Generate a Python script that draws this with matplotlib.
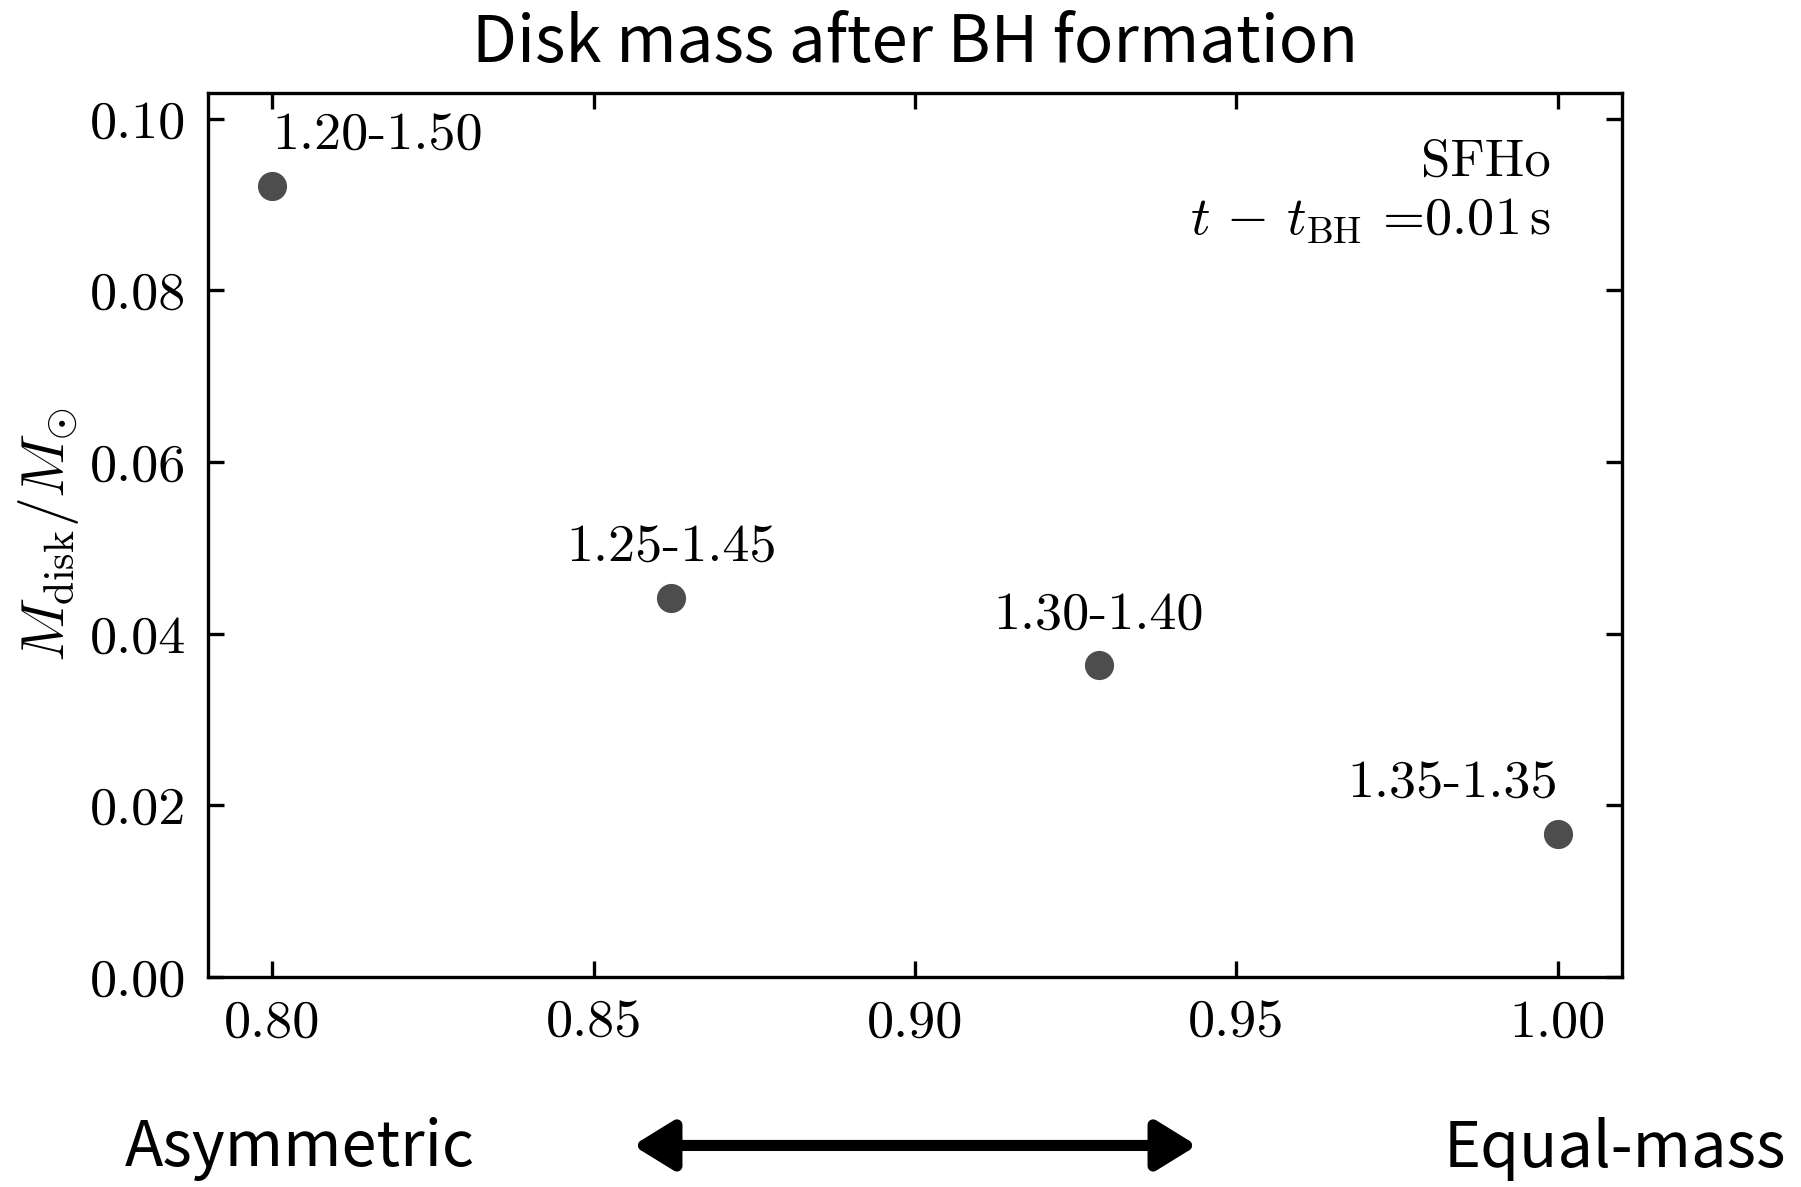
import numpy as np
import matplotlib
matplotlib.use("Agg")
import matplotlib.pyplot as plt

plt.rcParams['font.family'] = 'serif'
plt.rcParams['font.serif'] = ['cmr10']
plt.rcParams['mathtext.fontset'] = 'cm'
plt.rcParams['axes.formatter.use_mathtext'] = True
plt.rcParams['axes.unicode_minus'] = False

# binary configurations (M1-M2), mass ratio q and disk mass at t - t_BH = 0.01 s
labels = ['1.20-1.50', '1.25-1.45', '1.30-1.40', '1.35-1.35']
m1 = np.array([1.20, 1.25, 1.30, 1.35])
m2 = np.array([1.50, 1.45, 1.40, 1.35])
q = m1 / m2
m_disk = [0.0921, 0.0442, 0.0364, 0.0167]

fig = plt.figure(figsize=(9.005, 5.935), dpi=200)
ax = fig.add_axes([0.1155, 0.1769, 0.7851, 0.7448])

ax.plot(q, m_disk, 'o', color='#4d4d4d', markersize=10.5, markeredgewidth=0)

offsets = [(0, 9.5), (0, 9.5), (0, 9.5), (0, 9.5)]
aligns = ['left', 'center', 'center', 'right']
for lab, x, y, off, ha in zip(labels, q, m_disk, offsets, aligns):
    ax.annotate(lab, (x, y), xytext=off, textcoords='offset points',
                ha=ha, va='bottom', fontsize=19.5)

ax.text(0.9497, 0.922, 'SFHo', transform=ax.transAxes, ha='right', va='center', fontsize=19)
ax.text(0.9497, 0.855, r'$t\,-\,t_{\rm BH}$ =0.01$\,$s', transform=ax.transAxes,
        ha='right', va='center', fontsize=19.5)

ax.set_xlim(0.79, 1.01)
ax.set_ylim(0, 0.103)
ax.set_xticks([0.80, 0.85, 0.90, 0.95, 1.00])
ax.set_xticklabels(['0.80', '0.85', '0.90', '0.95', '1.00'])
ax.set_yticks([0.00, 0.02, 0.04, 0.06, 0.08, 0.10])
ax.set_yticklabels(['0.00', '0.02', '0.04', '0.06', '0.08', '0.10'])
ax.tick_params(direction='in', top=True, right=True, length=5.6, width=1.2,
               labelsize=19.5, pad=8)
for s in ax.spines.values():
    s.set_linewidth(1.2)

ax.set_ylabel(r'$M_{\rm disk}/M_{\odot}$', fontsize=21.5, labelpad=3)

sans = ['Noto Sans CJK JP', 'DejaVu Sans']
ax.set_title('Disk mass after BH formation', family=sans, fontsize=23.5, pad=11)

fig.text(0.069, 0.032, 'Asymmetric', family=sans, fontsize=22.7, ha='left', va='center')
fig.text(0.9917, 0.032, 'Equal-mass', family=sans, fontsize=22.7, ha='right', va='center')
fig.add_artist(matplotlib.patches.FancyArrowPatch(
    (633 / 1801, 0.035), (1197 / 1801, 0.035), transform=fig.transFigure,
    arrowstyle='<|-|>,head_length=0.6,head_width=0.37', mutation_scale=20,
    color='black', linewidth=4, shrinkA=0, shrinkB=0))

fig.savefig('out.png', dpi=200)
